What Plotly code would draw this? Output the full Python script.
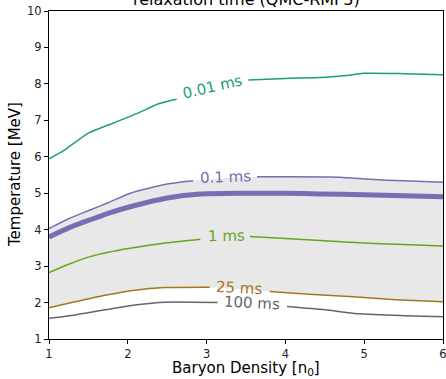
import plotly.graph_objects as go

# ---------------- data ----------------
x_001 = [1.0, 1.18, 1.5, 1.81, 2.15, 2.38, 2.62, 3.07, 3.53, 4.0, 4.5, 4.78, 4.99, 5.5, 6.0]
T_001 = [5.94, 6.16, 6.65, 6.92, 7.22, 7.45, 7.58, 7.9, 8.11, 8.15, 8.18, 8.23, 8.29, 8.28, 8.25]

x_01 = [1.0, 1.25, 1.52, 1.75, 2.03, 2.25, 2.5, 2.83, 3.24, 3.64, 4.0, 4.69, 5.07, 5.5, 6.0]
T_01 = [4.03, 4.3, 4.54, 4.74, 5.0, 5.13, 5.25, 5.34, 5.42, 5.45, 5.45, 5.44, 5.38, 5.34, 5.30]

x_band = [1.0, 1.25, 1.52, 1.75, 2.03, 2.5, 2.92, 3.42, 3.68, 4.0, 4.44, 5.0, 5.5, 6.0]
T_band = [3.8, 4.05, 4.27, 4.45, 4.63, 4.87, 4.98, 5.0, 5.0, 5.0, 4.98, 4.96, 4.93, 4.9]

x_1 = [1.0, 1.25, 1.52, 1.75, 2.03, 2.5, 2.92, 3.25, 3.55, 4.0, 4.44, 5.07, 5.5, 6.0]
T_1 = [2.82, 3.05, 3.26, 3.38, 3.49, 3.64, 3.74, 3.78, 3.81, 3.76, 3.70, 3.63, 3.59, 3.55]

x_25 = [1.0, 1.33, 1.71, 2.09, 2.47, 3.04, 3.41, 3.8, 4.3, 4.86, 5.4, 6.0]
T_25 = [1.86, 2.02, 2.2, 2.34, 2.41, 2.42, 2.37, 2.30, 2.23, 2.16, 2.08, 2.02]

x_100 = [1.0, 1.33, 1.71, 2.09, 2.47, 3.14, 3.58, 4.02, 4.5, 4.95, 5.5, 6.0]
T_100 = [1.57, 1.66, 1.80, 1.93, 2.01, 2.0, 1.95, 1.89, 1.80, 1.69, 1.64, 1.61]

labels = ["0.01 ms", "0.1 ms", "1 ms", "25 ms", "100 ms"]
label_x = [3.07, 3.24, 3.25, 3.41, 3.58]
label_T = [7.92, 5.45, 3.84, 2.40, 2.00]
label_gap = [(2.64, 3.52), (2.86, 3.62), (2.97, 3.53), (3.08, 3.77), (3.18, 3.99)]
label_angle = [-13, -2, -1, 3, 3]

x_ticks = [1, 2, 3, 4, 5, 6]
T_ticks = [1, 2, 3, 4, 5, 6, 7, 8, 9, 10]

colors = ["#1b9e77", "#7570b3", "#66a61e", "#a6761d", "#666666"]
curves = [(x_001, T_001), (x_01, T_01), (x_1, T_1), (x_25, T_25), (x_100, T_100)]

FONT = "DejaVu Sans"


def masked(xs, ts, gap):
    ox, ot = [], []
    gapped = False
    for x, t in zip(xs, ts):
        if gap[0] < x < gap[1]:
            if not gapped:
                ox.append(None)
                ot.append(None)
                gapped = True
            continue
        ox.append(x)
        ot.append(t)
    return ox, ot


fig = go.Figure()

# grey fill between 25 ms and 0.1 ms
fig.add_trace(go.Scatter(x=x_25, y=T_25, mode="lines", line=dict(width=0),
                         hoverinfo="skip", showlegend=False))
fig.add_trace(go.Scatter(x=x_01, y=T_01, mode="lines", line=dict(width=0),
                         fill="tonexty", fillcolor="rgb(232,232,232)",
                         hoverinfo="skip", showlegend=False))

# thick band line
fig.add_trace(go.Scatter(x=x_band, y=T_band, mode="lines",
                         line=dict(color=colors[1], width=5, shape="spline", smoothing=0.6),
                         showlegend=False))

for (xs, ts), col, gap in zip(curves, colors, label_gap):
    mx, mt = masked(xs, ts, gap)
    fig.add_trace(go.Scatter(x=mx, y=mt, mode="lines", connectgaps=False,
                             line=dict(color=col, width=1.5, shape="spline", smoothing=0.6),
                             showlegend=False))

for lab, lx, lt, ang, col in zip(labels, label_x, label_T, label_angle, colors):
    fig.add_annotation(x=lx, y=lt, text=lab, showarrow=False, textangle=ang,
                       font=dict(family=FONT, size=15, color=col),
                       xanchor="center", yanchor="middle")

# title (cut off at the top as in the reference)
fig.add_annotation(x=0.5, y=1.0, yshift=12, xref="paper", yref="paper",
                   text="relaxation time (QMC-RMF3)", showarrow=False,
                   font=dict(family=FONT, size=16, color="black"),
                   xanchor="center", yanchor="middle")

# axis titles as annotations for exact placement
fig.add_annotation(x=0.5, y=0, yshift=-29, xref="paper", yref="paper",
                   text="Baryon Density [n<sub>0</sub>]", showarrow=False, borderpad=0,
                   font=dict(family=FONT, size=15, color="black"),
                   xanchor="center", yanchor="middle")
fig.add_annotation(x=0, y=0.5, xshift=-34, xref="paper", yref="paper",
                   text="Temperature [MeV]", showarrow=False, textangle=-90, borderpad=0,
                   font=dict(family=FONT, size=15, color="black"),
                   xanchor="center", yanchor="middle")

axis_common = dict(showgrid=False, zeroline=False, showline=True, linecolor="black",
                   linewidth=1, mirror=True, ticks="outside", ticklen=4, tickwidth=1,
                   tickcolor="black", automargin=False, ticklabeloverflow="allow",
                   tickfont=dict(family=FONT, size=11.5, color="#222"))

fig.update_xaxes(range=[1, 6], tickvals=x_ticks, ticktext=[str(v) for v in x_ticks],
                 **axis_common)
fig.update_yaxes(range=[1, 10], tickvals=T_ticks, ticktext=[str(v) for v in T_ticks],
                 **axis_common)

fig.update_layout(width=446, height=379, margin=dict(l=49, r=3, t=11, b=40),
                  plot_bgcolor="white", paper_bgcolor="white", showlegend=False)

fig.write_html("out.html", config={"displayModeBar": False, "staticPlot": True},
               post_script="document.body.style.margin='0';document.body.style.overflow='hidden';")
